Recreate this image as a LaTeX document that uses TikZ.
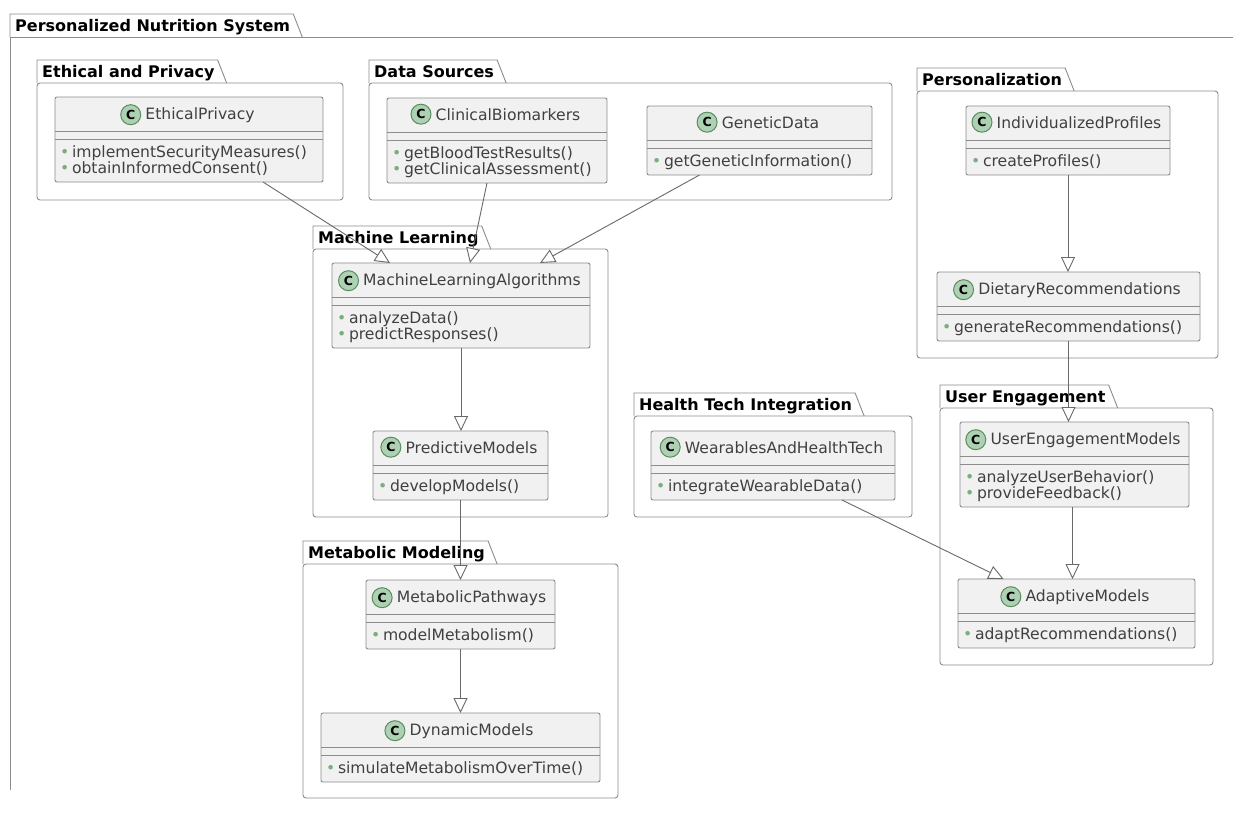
\documentclass[tikz,border=0pt]{standalone}
\usepackage{fontspec}
\setmainfont{DejaVu Sans}
\usetikzlibrary{arrows.meta, calc, positioning}
\definecolor{classfill}{RGB}{241,241,241}
\definecolor{boxline}{RGB}{140,140,140}
\definecolor{spotfill}{RGB}{173,209,178}
\definecolor{spotline}{RGB}{90,140,95}
\definecolor{pubgreen}{RGB}{120,175,125}
\definecolor{linkgray}{RGB}{105,105,105}
\tikzstyle{pkg} = [draw=boxline, line width=0.9pt]
\tikzstyle{ptitle} = [inner sep=0pt, font=\bfseries\fontsize{16}{17}\selectfont]
\tikzstyle{classbox} = [rectangle, rounded corners=2pt, draw=boxline, fill=classfill, line width=0.9pt, inner sep=0pt, outer sep=0pt]
\tikzstyle{sepline} = [draw=boxline, line width=0.9pt]
\tikzstyle{cname} = [inner sep=0pt, anchor=base, font=\fontsize{15.6}{16}\selectfont, text=black!75]
\tikzstyle{spot} = [circle, draw=spotline, fill=spotfill, line width=1pt, inner sep=0pt, minimum size=20pt, font=\bfseries\fontsize{12.5}{12.5}\selectfont, label distance=4pt]
\tikzstyle{meth} = [inner sep=0pt, anchor=base west, font=\fontsize{15.6}{16}\selectfont, text=black!75]
\tikzstyle{gen} = [draw=linkgray, line width=0.9pt, -{Triangle[open, length=15pt, width=14pt, fill=white]}]
% class: id, left, top, right, number of methods, name, methods
\newcommand{\classbox}[7]{%
	\node[classbox, anchor=north west, minimum width={(#4-#2)*1pt}, minimum height={(53+16*#5)*1pt}] (#1) at (#2,#3) {};
	\draw[sepline] ($(#1.north west)+(0,34)$) -- ($(#1.north east)+(0,34)$);
	\draw[sepline] ($(#1.north west)+(0,42)$) -- ($(#1.north east)+(0,42)$);
	\node[cname, label={[spot]left:C}] (#1-name) at ($(#1.north)+(11,22)$) {#6};
	\foreach \m [count=\i] in {#7}
		\node[meth] (#1-m\i) at ($(#1.north west)+(5,44+16*\i)$) {{\color{pubgreen}•}\,\m};
}
% package: id, left, top, right, bottom, title
\newcommand{\umlpackage}[6]{%
	\node[ptitle, anchor=base west] (#1-title) at (#2+5,#3+17) {#6};
	\draw[pkg, rounded corners=3pt] (#2,#3+23) rectangle (#4,#5);
	\draw[pkg] (#2,#3+23) -- (#2,#3) -- ($(#1-title.base east)+(3,-17)$) -- ($(#1-title.base east)+(12,6)$);
}

\begin{document}
\begin{tikzpicture}[x=1pt, y=-1pt]
	\useasboundingbox[fill=white] (0,0) rectangle (1233,820);
	% outer package
	\node[ptitle, anchor=base west] (System-title) at (15,31) {Personalized Nutrition System};
	\draw[pkg] (1233,37) -- (10,37) -- (10,790);
	\draw[pkg] (10,37) -- (10,14) -- ($(System-title.base east)+(3,-17)$) -- ($(System-title.base east)+(12,6)$);

	% packages
	\umlpackage{Ethics}{37}{60}{343}{200}{Ethical and Privacy}
	\umlpackage{Sources}{369}{60}{892}{200}{Data Sources}
	\umlpackage{Personal}{917}{68}{1218}{358}{Personalization}
	\umlpackage{Learning}{313}{226}{608}{517}{Machine Learning}
	\umlpackage{HealthTech}{634}{393}{912}{517}{Health Tech Integration}
	\umlpackage{Engagement}{940}{385}{1213}{665}{User Engagement}
	\umlpackage{Metabolic}{303}{541}{618}{798}{Metabolic Modeling}

	% classes
	\classbox{EthicalPrivacy}{55}{97}{323}{2}{EthicalPrivacy}{implementSecurityMeasures(), obtainInformedConsent()}
	\classbox{ClinicalBiomarkers}{387}{98}{607}{2}{ClinicalBiomarkers}{getBloodTestResults(), getClinicalAssessment()}
	\classbox{GeneticData}{647}{106}{872}{1}{GeneticData}{getGeneticInformation()}
	\classbox{MLAlgorithms}{332}{263}{590}{2}{MachineLearningAlgorithms}{analyzeData(), predictResponses()}
	\classbox{PredictiveModels}{373}{431}{548}{1}{PredictiveModels}{developModels()}
	\classbox{MetabolicPathways}{366}{580}{555}{1}{MetabolicPathways}{modelMetabolism()}
	\classbox{DynamicModels}{321}{713}{600}{1}{DynamicModels}{simulateMetabolismOverTime()}
	\classbox{Wearables}{651}{431}{895}{1}{WearablesAndHealthTech}{integrateWearableData()}
	\classbox{Profiles}{966}{106}{1170}{1}{IndividualizedProfiles}{createProfiles()}
	\classbox{Dietary}{937}{272}{1200}{1}{DietaryRecommendations}{generateRecommendations()}
	\classbox{EngagementModels}{960}{422}{1189}{2}{UserEngagementModels}{analyzeUserBehavior(), provideFeedback()}
	\classbox{AdaptiveModels}{958}{579}{1195}{1}{AdaptiveModels}{adaptRecommendations()}

	% generalizations
	\draw[gen] ($(EthicalPrivacy.south)+(74,0)$) -- ($(MLAlgorithms.north)+(-71,0)$);
	\draw[gen] ($(ClinicalBiomarkers.south)+(-10,0)$) -- ($(MLAlgorithms.north)+(9,0)$);
	\draw[gen] ($(GeneticData.south)+(-60,0)$) -- ($(MLAlgorithms.north)+(79,0)$);
	\draw[gen] (MLAlgorithms.south) -- (MLAlgorithms.south |- PredictiveModels.north);
	\draw[gen] (PredictiveModels.south) -- (PredictiveModels.south |- MetabolicPathways.north);
	\draw[gen] (MetabolicPathways.south) -- (MetabolicPathways.south |- DynamicModels.north);
	\draw[gen] (Profiles.south) -- (Profiles.south |- Dietary.north);
	\draw[gen] (Dietary.south) -- (Dietary.south |- EngagementModels.north);
	\draw[gen] ($(EngagementModels.south)+(-2,0)$) -- ($(EngagementModels.south |- AdaptiveModels.north)+(-2,0)$);
	\draw[gen] ($(Wearables.south)+(69,0)$) -- ($(AdaptiveModels.north)+(-73,0)$);
\end{tikzpicture}
\end{document}
